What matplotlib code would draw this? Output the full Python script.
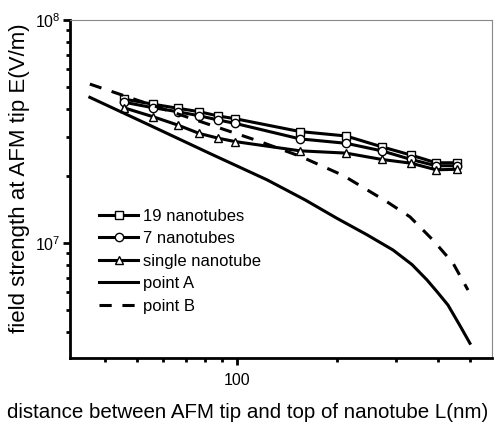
import numpy as np
import matplotlib
matplotlib.use("Agg")
import matplotlib.pyplot as plt

plt.rcParams['font.family'] = ['Liberation Sans', 'DejaVu Sans']
plt.rcParams['mathtext.fontset'] = 'custom'
plt.rcParams['mathtext.rm'] = 'Liberation Sans'

# Distances L (nm) where the nanotube curves were sampled
L_tubes = [45.7, 56.0, 66.3, 76.9, 87.8, 98.5, 154.4, 212.2, 271.7, 332.5, 395.4, 458.0]
E_19 = [4.42e7, 4.19e7, 4.02e7, 3.88e7, 3.71e7, 3.61e7, 3.16e7, 3.02e7, 2.70e7, 2.48e7, 2.29e7, 2.29e7]
E_7 = [4.28e7, 4.04e7, 3.88e7, 3.72e7, 3.56e7, 3.44e7, 2.93e7, 2.80e7, 2.59e7, 2.37e7, 2.22e7, 2.22e7]
E_single = [4.04e7, 3.68e7, 3.38e7, 3.10e7, 2.95e7, 2.85e7, 2.59e7, 2.53e7, 2.37e7, 2.28e7, 2.13e7, 2.14e7]

# Point A (solid) and point B (dashed)
L_A = [36.1, 54.7, 82.8, 122.9, 160.0, 199.4, 245.0, 293.8, 335.0, 371.5, 400.0, 429.5, 465.0, 500.0]
E_A = [4.50e7, 3.37e7, 2.52e7, 1.92e7, 1.56e7, 1.29e7, 1.09e7, 9.30e6, 8.00e6, 6.83e6, 6.00e6, 5.27e6, 4.30e6, 3.55e6]
L_B = [36.1, 54.7, 77.3, 115.5, 154.4, 207.9, 281.8, 330.3, 387.3, 444.6, 493.3]
E_B = [5.16e7, 4.18e7, 3.51e7, 2.87e7, 2.45e7, 2.01e7, 1.53e7, 1.31e7, 1.03e7, 8.13e6, 6.15e6]

fig = plt.figure(figsize=(4.96, 4.26), dpi=100)
ax = fig.add_axes([70/496, 1 - 358/426, 422/496, 338/426])

mk = dict(color='black', lw=2.2, markersize=6, markerfacecolor='white',
          markeredgecolor='black', markeredgewidth=1.0)
ax.plot(L_tubes, E_19, marker='s', label='19 nanotubes', **mk)
ax.plot(L_tubes, E_7, marker='o', label='7 nanotubes', **mk)
ax.plot(L_tubes, E_single, marker='^', label='single nanotube', **mk)
ax.plot(L_A, E_A, color='black', lw=2.2, label='point A')
ax.plot(L_B, E_B, color='black', lw=2.2, linestyle=(0, (4, 3.5)), label='point B')

ax.set_xscale('log')
ax.set_yscale('log')
ax.set_xlim(31.47, 582.4)
ax.set_ylim(3.05e6, 1e8)

ax.xaxis.set_major_locator(matplotlib.ticker.FixedLocator([100]))
ax.xaxis.set_major_formatter(matplotlib.ticker.FixedFormatter(['100']))
ax.xaxis.set_minor_locator(matplotlib.ticker.LogLocator(base=10, subs=np.arange(2, 10)))
ax.xaxis.set_minor_formatter(matplotlib.ticker.NullFormatter())
ax.yaxis.set_major_locator(matplotlib.ticker.LogLocator(base=10))
ax.yaxis.set_minor_locator(matplotlib.ticker.LogLocator(base=10, subs=np.arange(2, 10)))
ax.yaxis.set_minor_formatter(matplotlib.ticker.NullFormatter())

ax.tick_params(which='major', direction='out', length=5, width=2, labelsize=11.5, pad=6)
ax.tick_params(which='minor', direction='out', length=3, width=2)
ax.tick_params(axis='y', which='major', pad=2)

for s in ['left', 'bottom']:
    ax.spines[s].set_linewidth(2)
for s in ['top', 'right']:
    ax.spines[s].set_linewidth(0.8)
    ax.spines[s].set_color('#888888')

ax.set_xlabel('distance between AFM tip and top of nanotube L(nm)', fontsize=14.8)
ax.set_ylabel('field strength at AFM tip E(V/m)', fontsize=16)
ax.xaxis.set_label_coords((248 - 70) / 422, (358 - 413) / 338)
ax.yaxis.set_label_coords((20 - 70) / 422, (358 - 178) / 338)
ax.xaxis.label.set_va('center')
ax.yaxis.label.set_va('center')

ax.legend(loc='upper left', bbox_to_anchor=(0.069, 0.442), frameon=False,
          fontsize=12, handlelength=2.35, handletextpad=0.3, labelspacing=0.45,
          borderpad=0, borderaxespad=0)

fig.savefig('out.png', dpi=100)
